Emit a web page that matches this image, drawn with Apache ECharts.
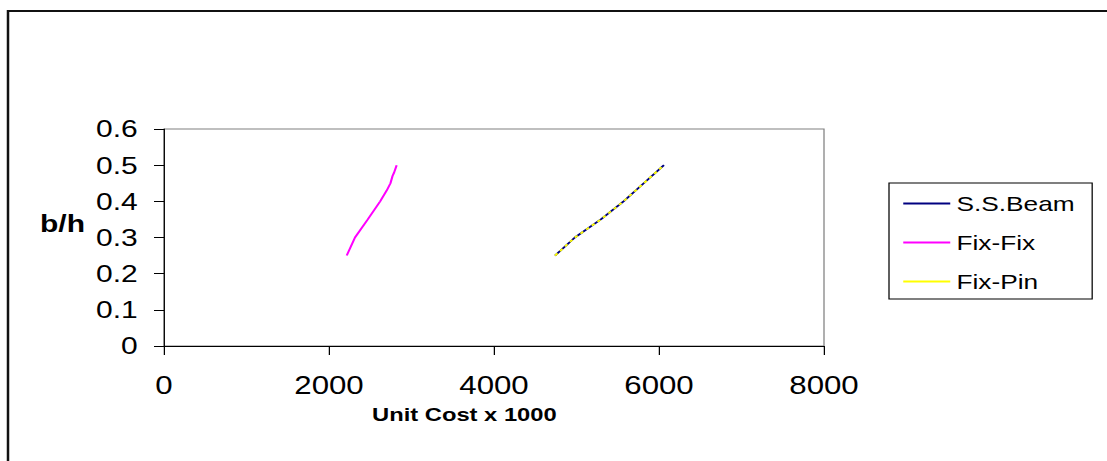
<!DOCTYPE html>
<html>
<head>
<meta charset="utf-8">
<script src="https://cdn.jsdelivr.net/npm/echarts@6/dist/echarts.min.js"></script>
<style>
html,body{margin:0;padding:0;background:#fff;overflow:hidden;}
#wrap{width:1107px;height:461px;overflow:hidden;position:relative;}
#c{width:885.6px;height:461px;transform:scaleX(1.25);transform-origin:0 0;position:absolute;left:0;top:0;}
</style>
</head>
<body>
<div id="wrap"><div id="c"></div></div>
<script>
var seriesNames = ['S.S.Beam', 'Fix-Fix', 'Fix-Pin'];
var ssBeam = [[4740,0.25],[4980,0.30],[5295,0.35],[5570,0.40],[5815,0.45],[6060,0.50]];
var fixFix = [[2215,0.25],[2315,0.30],[2470,0.35],[2620,0.40],[2700,0.43],[2745,0.45],[2770,0.47],[2790,0.48],[2820,0.50]];
var fixPin = [[4740,0.25],[4980,0.30],[5295,0.35],[5570,0.40],[5815,0.45],[6060,0.50]];
var xTicks = { min: 0, max: 8000, interval: 2000 };
var yTicks = { min: 0, max: 0.6, interval: 0.1 };
var xTitle = 'Unit Cost x 1000';
var yTitle = 'b/h';

var chart = echarts.init(document.getElementById('c'), null, { renderer: 'svg' });
var font = 'Liberation Sans, Arial, sans-serif';
chart.setOption({
  animation: false,
  backgroundColor: '#fff',
  grid: { left: 131.2, top: 129, width: 528, height: 217, show: true, borderColor: '#808080', borderWidth: 1, containLabel: false },
  xAxis: {
    type: 'value', min: xTicks.min, max: xTicks.max, interval: xTicks.interval,
    axisLine: { show: true, onZero: false, lineStyle: { color: '#000', width: 1 } },
    axisTick: { show: true, length: 9, lineStyle: { color: '#000' } },
    axisLabel: { margin: 27, fontSize: 25, color: '#000', fontFamily: font, formatter: function (v) { return String(v); } },
    splitLine: { show: false }
  },
  yAxis: {
    type: 'value', min: yTicks.min, max: yTicks.max, interval: yTicks.interval,
    axisLine: { show: true, onZero: false, lineStyle: { color: '#000', width: 0.9 } },
    axisTick: { show: true, length: 8, lineStyle: { color: '#000' } },
    axisLabel: { margin: 21, fontSize: 24, color: '#000', fontFamily: font },
    splitLine: { show: false }
  },
  legend: {
    orient: 'vertical', left: 711.2, top: 183,
    data: seriesNames,
    itemWidth: 37.6, itemHeight: 20, itemGap: 18,
    padding: [10, 14, 7, 10.4],
    borderColor: '#000', borderWidth: 1,
    lineStyle: { type: 'solid' },
    itemStyle: { opacity: 0 },
    textStyle: { fontSize: 21, color: '#000', fontFamily: font }
  },
  graphic: [
    { type: 'rect', shape: { x: 6.4, y: 11, width: 1000, height: 600 }, style: { fill: 'none', stroke: '#111', lineWidth: 2 }, silent: true },
    { type: 'text', left: 297.6, top: 405, style: { text: xTitle, fontSize: 19, fontWeight: 'bold', fill: '#000', fontFamily: font } },
    { type: 'text', left: 32, top: 212, style: { text: yTitle, fontSize: 24, fontWeight: 'bold', fill: '#000', fontFamily: font } }
  ],
  series: [
    { name: seriesNames[0], type: 'line', data: ssBeam, symbol: 'none', lineStyle: { color: '#000080', width: 1.7 }, itemStyle: { color: '#000080' }, z: 2 },
    { name: seriesNames[1], type: 'line', data: fixFix, symbol: 'none', lineStyle: { color: '#FF00FF', width: 1.7 }, itemStyle: { color: '#FF00FF' }, z: 2 },
    { name: seriesNames[2], type: 'line', data: fixPin, symbol: 'none', lineStyle: { color: '#FFFF00', width: 1.7, type: [3, 3] }, itemStyle: { color: '#FFFF00' }, z: 3 }
  ]
});
</script>
</body>
</html>
